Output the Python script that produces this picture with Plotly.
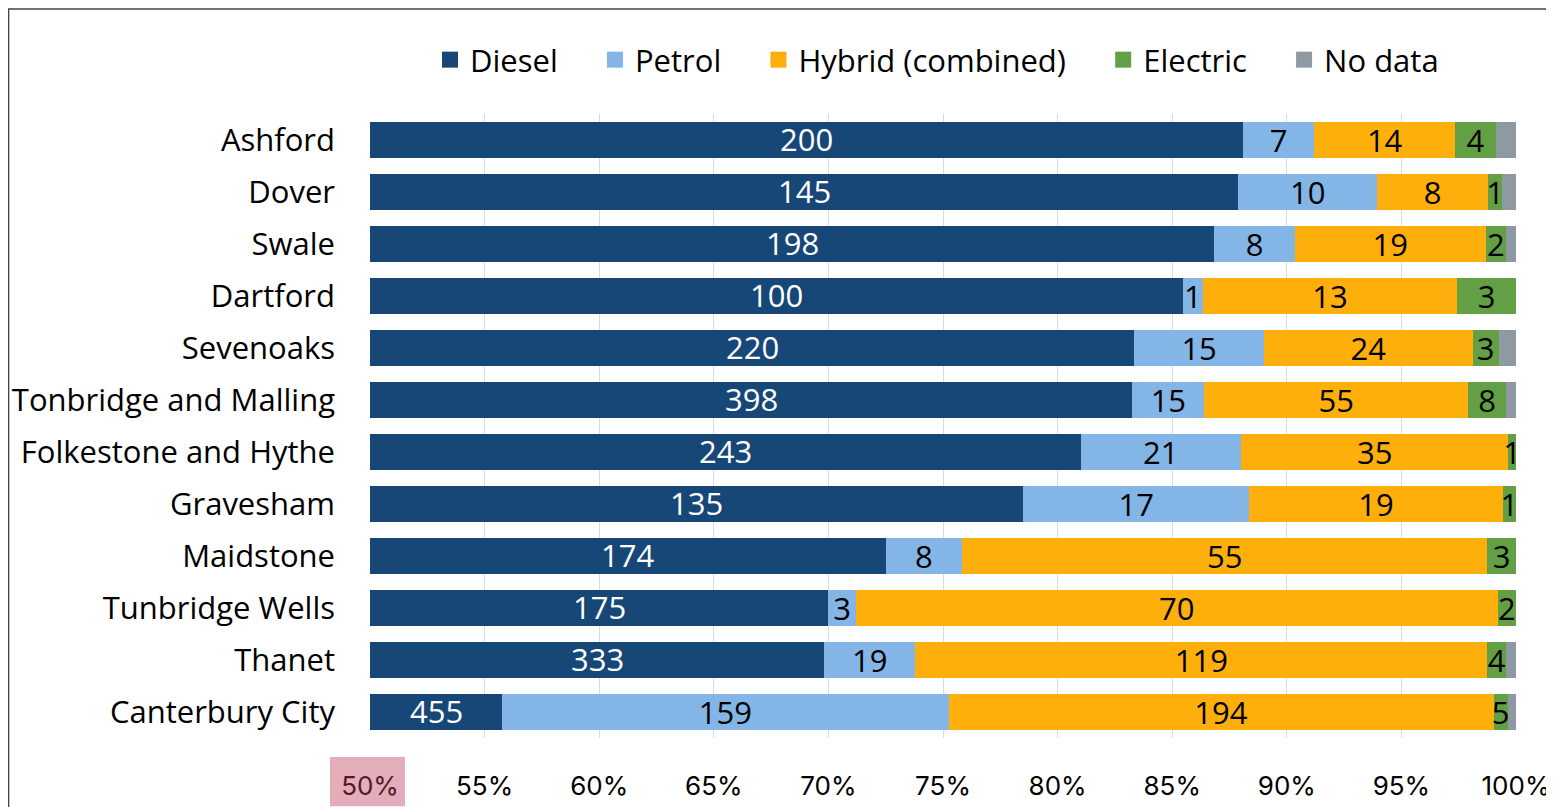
import plotly.graph_objects as go

districts = ["Ashford", "Dover", "Swale", "Dartford", "Sevenoaks", "Tonbridge and Malling",
             "Folkestone and Hythe", "Gravesham", "Maidstone", "Tunbridge Wells", "Thanet",
             "Canterbury City"]
diesel = [200, 145, 198, 100, 220, 398, 243, 135, 174, 175, 333, 455]
petrol = [7, 10, 8, 1, 15, 15, 21, 17, 8, 3, 19, 159]
hybrid = [14, 8, 19, 13, 24, 55, 35, 19, 55, 70, 119, 194]
electric = [4, 1, 2, 3, 3, 8, 1, 1, 3, 2, 4, 5]
no_data = [2, 1, 1, 0, 2, 2, 0, 0, 0, 0, 2, 3]

X_MIN, X_MAX = 50, 100

series = [
    ("Diesel", diesel, "#174777", "white"),
    ("Petrol", petrol, "#83B5E6", "black"),
    ("Hybrid (combined)", hybrid, "#FEAF0B", "black"),
    ("Electric", electric, "#63A045", "black"),
    ("No data", no_data, "#8E99A4", "black"),
]

FONT = "Open Sans"
FS = 31
PAD = "\u00a0" * 4
fig = go.Figure()
for i, (name, vals, color, tcol) in enumerate(series):
    labelled = name not in ("Diesel", "No data")
    fig.add_trace(go.Bar(
        y=districts, x=vals, name=name, orientation="h", showlegend=False,
        marker=dict(color=color, line=dict(width=0)),
        text=[str(v) for v in vals] if labelled else None,
        textposition="inside" if labelled else "none",
        insidetextanchor="middle", textangle=0,
        textfont=dict(color=tcol, size=FS, family=FONT),
        hoverinfo="x+y+name",
    ))
    # legend entry with a larger square swatch
    fig.add_trace(go.Scatter(
        x=[None], y=[None], mode="markers",
        name=name + (PAD if i < len(series) - 1 else ""),
        marker=dict(symbol="square", size=19, color=color), hoverinfo="skip",
    ))

# Diesel labels: centred on the visible part of the bar (axis starts at 50%)
totals = [d + p + h + e + n for d, p, h, e, n in zip(diesel, petrol, hybrid, electric, no_data)]
diesel_pct = [100.0 * d / t for d, t in zip(diesel, totals)]
for dist, val, pct in zip(districts, diesel, diesel_pct):
    fig.add_annotation(x=(X_MIN + max(pct, X_MIN)) / 2, y=dist, text=str(val),
                       showarrow=False, yshift=1,
                       font=dict(color="white", size=FS, family=FONT))

# page is offset by the 8px body margin
W, H = 1554, 807
L, R, T, B = 362, 46, 106, 77
pw, ph = W - L - R, H - T - B

fig.update_layout(
    width=W, height=H,
    barmode="stack", barnorm="percent", bargap=0.29,
    margin=dict(l=L, r=R, t=T, b=B),
    paper_bgcolor="white", plot_bgcolor="white",
    font=dict(family=FONT, size=FS, color="black"),
    uniformtext=dict(minsize=FS, mode="show"),
    legend=dict(orientation="h", x=(929 - L) / pw, xanchor="center", y=1.0 + 54 / ph,
                yanchor="middle", font=dict(size=FS, family=FONT), traceorder="normal",
                itemwidth=30),
    xaxis=dict(range=[X_MIN, X_MAX], dtick=5, tick0=50, ticksuffix="%", showgrid=True,
               gridcolor="#D9D9D9", gridwidth=1, zeroline=False, showline=False,
               tickfont=dict(family="Inter", size=26, color="black"), ticks="",
               ticklabelstandoff=30, automargin=False),
    yaxis=dict(autorange="reversed", showgrid=False, ticks="", showline=False,
               tickfont=dict(family=FONT, size=FS, color="black"), ticklabelstandoff=34,
               automargin=False),
)

# outer frame of the chart (paper edge)
fig.add_shape(type="rect", xref="paper", yref="paper",
              x0=-L / pw + 0.0005, x1=(W - L) / pw + 0.01,
              y0=-B / ph - 0.02, y1=1 + (T - 1) / ph,
              line=dict(color="#444444", width=1.5), fillcolor="rgba(0,0,0,0)", layer="below")

# pink highlight box over the first tick label, as in the reference
fig.add_shape(type="rect", xref="paper", yref="paper",
              x0=(322 - L) / pw, x1=(397 - L) / pw,
              y0=-(H - 40 - (H - B)) / ph - 0.05, y1=-(749 - (H - B)) / ph,
              line=dict(width=0), fillcolor="rgba(190,60,90,0.42)", layer="above")

fig.write_html("out.html")
